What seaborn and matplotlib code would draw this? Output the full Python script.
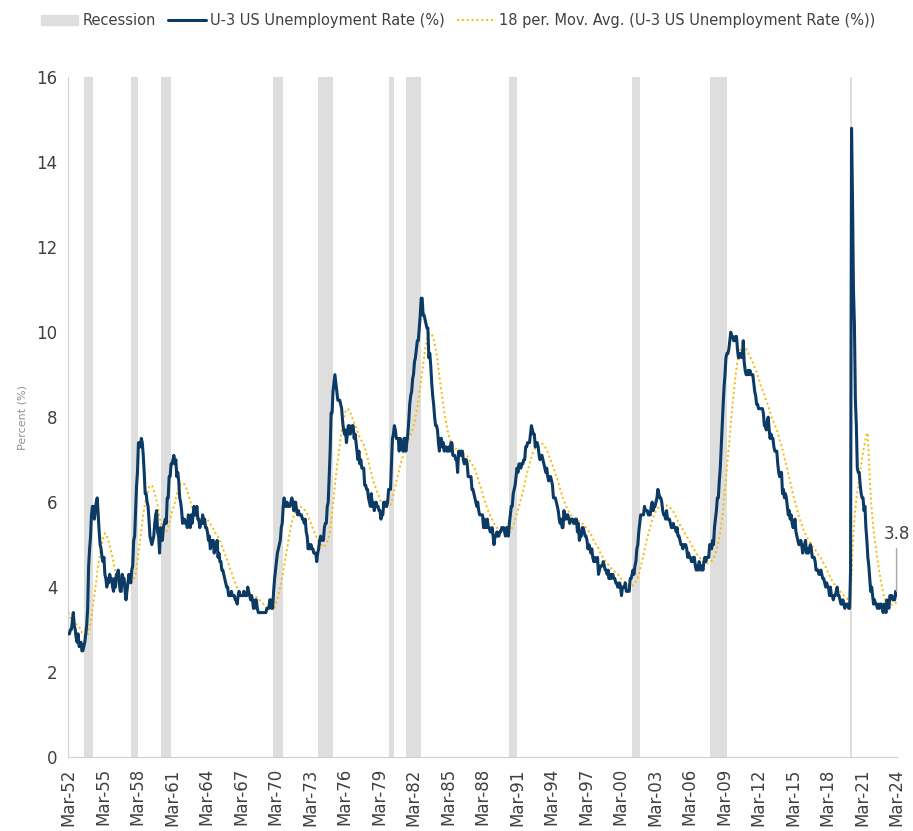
import matplotlib.pyplot as plt
import matplotlib.dates as mdates
from matplotlib.patches import Patch
from matplotlib.lines import Line2D
import numpy as np
import pandas as pd
import seaborn as sns

# monthly U-3 rate (%); starts Oct-50 so the
# 18-month average is already filled at Mar-52
u1950s = [4.2, 4.2, 4.3,
          3.7, 3.4, 3.4, 3.1, 3.0, 3.2, 3.1, 3.1, 3.3, 3.5, 3.5, 3.1,
          3.2, 3.1, 2.9, 2.9, 3.0, 3.0, 3.2, 3.4, 3.1, 3.0, 2.8, 2.7,
          2.9, 2.6, 2.6, 2.7, 2.5, 2.5, 2.6, 2.7, 2.9, 3.1, 3.5, 4.5,
          4.9, 5.2, 5.7, 5.9, 5.9, 5.6, 5.8, 6.0, 6.1, 5.7, 5.3, 5.0,
          4.9, 4.7, 4.6, 4.7, 4.3, 4.2, 4.0, 4.2, 4.1, 4.3, 4.2, 4.2,
          4.0, 3.9, 4.2, 4.0, 4.3, 4.3, 4.4, 4.1, 3.9, 3.9, 4.3, 4.2,
          4.2, 3.9, 3.7, 3.9, 4.1, 4.3, 4.2, 4.1, 4.4, 4.5, 5.1, 5.2,
          5.8, 6.4, 6.7, 7.4, 7.4, 7.3, 7.5, 7.4, 7.1, 6.7, 6.2, 6.2,
          6.0, 5.9, 5.6, 5.2, 5.1, 5.0, 5.1, 5.2, 5.5, 5.7, 5.8, 5.3]
u1960s = [5.2, 4.8, 5.4, 5.2, 5.1, 5.4, 5.5, 5.6, 5.5, 6.1, 6.1, 6.6,
          6.6, 6.9, 6.9, 7.0, 7.1, 6.9, 7.0, 6.6, 6.7, 6.5, 6.1, 6.0,
          5.8, 5.5, 5.6, 5.6, 5.5, 5.5, 5.4, 5.7, 5.6, 5.4, 5.7, 5.5,
          5.7, 5.9, 5.7, 5.7, 5.9, 5.6, 5.6, 5.4, 5.5, 5.5, 5.7, 5.5,
          5.6, 5.4, 5.4, 5.3, 5.1, 5.2, 4.9, 5.0, 5.1, 5.1, 4.8, 5.0,
          4.9, 5.1, 4.7, 4.8, 4.6, 4.6, 4.4, 4.4, 4.3, 4.2, 4.1, 4.0,
          4.0, 3.8, 3.8, 3.8, 3.9, 3.8, 3.8, 3.8, 3.7, 3.7, 3.6, 3.8,
          3.9, 3.8, 3.8, 3.8, 3.8, 3.9, 3.8, 3.8, 3.8, 4.0, 3.9, 3.8,
          3.7, 3.8, 3.7, 3.5, 3.5, 3.7, 3.7, 3.5, 3.4, 3.4, 3.4, 3.4,
          3.4, 3.4, 3.4, 3.4, 3.4, 3.5, 3.5, 3.5, 3.7, 3.7, 3.5, 3.5]
u1970s = [3.9, 4.2, 4.4, 4.6, 4.8, 4.9, 5.0, 5.1, 5.4, 5.5, 5.9, 6.1,
          5.9, 5.9, 6.0, 5.9, 5.9, 5.9, 6.0, 6.1, 6.0, 5.8, 6.0, 6.0,
          5.8, 5.7, 5.8, 5.7, 5.7, 5.7, 5.6, 5.6, 5.5, 5.6, 5.3, 5.2,
          4.9, 5.0, 4.9, 5.0, 4.9, 4.9, 4.8, 4.8, 4.8, 4.6, 4.8, 4.9,
          5.1, 5.2, 5.1, 5.1, 5.1, 5.4, 5.5, 5.5, 5.9, 6.0, 6.6, 7.2,
          8.1, 8.1, 8.6, 8.8, 9.0, 8.8, 8.6, 8.4, 8.4, 8.4, 8.3, 8.2,
          7.9, 7.7, 7.6, 7.7, 7.4, 7.6, 7.8, 7.8, 7.6, 7.7, 7.8, 7.8,
          7.5, 7.6, 7.4, 7.2, 7.0, 7.2, 6.9, 7.0, 6.8, 6.8, 6.8, 6.4,
          6.4, 6.3, 6.3, 6.1, 6.0, 5.9, 6.2, 5.9, 6.0, 5.8, 5.9, 6.0,
          5.9, 5.9, 5.8, 5.8, 5.6, 5.7, 5.7, 6.0, 5.9, 6.0, 5.9, 6.0]
u1980s = [6.3, 6.3, 6.3, 6.9, 7.5, 7.6, 7.8, 7.7, 7.5, 7.5, 7.5, 7.2,
          7.5, 7.4, 7.4, 7.2, 7.5, 7.5, 7.2, 7.4, 7.6, 7.9, 8.3, 8.5,
          8.6, 8.9, 9.0, 9.3, 9.4, 9.6, 9.8, 9.8, 10.1, 10.4, 10.8, 10.8,
          10.4, 10.4, 10.3, 10.2, 10.1, 10.1, 9.4, 9.5, 9.2, 8.8, 8.5, 8.3,
          8.0, 7.8, 7.8, 7.7, 7.4, 7.2, 7.5, 7.5, 7.3, 7.4, 7.2, 7.3,
          7.3, 7.2, 7.2, 7.3, 7.2, 7.4, 7.4, 7.1, 7.1, 7.1, 7.0, 7.0,
          6.7, 7.2, 7.2, 7.1, 7.2, 7.2, 7.0, 6.9, 7.0, 7.0, 6.9, 6.6,
          6.6, 6.6, 6.6, 6.3, 6.3, 6.2, 6.1, 6.0, 5.9, 6.0, 5.8, 5.7,
          5.7, 5.7, 5.7, 5.4, 5.6, 5.4, 5.4, 5.6, 5.4, 5.4, 5.3, 5.3,
          5.4, 5.2, 5.0, 5.2, 5.2, 5.3, 5.2, 5.2, 5.3, 5.3, 5.4, 5.4]
u1990s = [5.4, 5.3, 5.2, 5.4, 5.4, 5.2, 5.5, 5.7, 5.9, 5.9, 6.2, 6.3,
          6.4, 6.6, 6.8, 6.7, 6.9, 6.9, 6.8, 6.9, 6.9, 7.0, 7.0, 7.3,
          7.3, 7.4, 7.4, 7.4, 7.6, 7.8, 7.7, 7.6, 7.6, 7.3, 7.4, 7.4,
          7.3, 7.1, 7.0, 7.1, 7.1, 7.0, 6.9, 6.8, 6.7, 6.8, 6.6, 6.5,
          6.6, 6.6, 6.5, 6.4, 6.1, 6.1, 6.1, 6.0, 5.9, 5.8, 5.6, 5.5,
          5.6, 5.4, 5.4, 5.8, 5.6, 5.6, 5.7, 5.7, 5.6, 5.5, 5.6, 5.6,
          5.6, 5.5, 5.5, 5.6, 5.6, 5.3, 5.5, 5.1, 5.2, 5.2, 5.4, 5.4,
          5.3, 5.2, 5.2, 5.1, 4.9, 5.0, 4.9, 4.8, 4.9, 4.7, 4.6, 4.7,
          4.6, 4.6, 4.7, 4.3, 4.4, 4.5, 4.5, 4.5, 4.6, 4.5, 4.4, 4.4,
          4.3, 4.4, 4.2, 4.3, 4.2, 4.3, 4.3, 4.2, 4.2, 4.1, 4.1, 4.0]
u2000s = [4.0, 4.1, 4.0, 3.8, 4.0, 4.0, 4.0, 4.1, 3.9, 3.9, 3.9, 3.9,
          4.2, 4.2, 4.3, 4.4, 4.3, 4.5, 4.6, 4.9, 5.0, 5.3, 5.5, 5.7,
          5.7, 5.7, 5.7, 5.9, 5.8, 5.8, 5.8, 5.7, 5.7, 5.7, 5.9, 6.0,
          5.8, 5.9, 5.9, 6.0, 6.1, 6.3, 6.2, 6.1, 6.1, 6.0, 5.8, 5.7,
          5.7, 5.6, 5.8, 5.6, 5.6, 5.6, 5.5, 5.4, 5.4, 5.5, 5.4, 5.4,
          5.3, 5.4, 5.2, 5.2, 5.1, 5.0, 5.0, 4.9, 5.0, 5.0, 5.0, 4.9,
          4.7, 4.8, 4.7, 4.7, 4.6, 4.6, 4.7, 4.7, 4.5, 4.4, 4.5, 4.4,
          4.6, 4.5, 4.4, 4.5, 4.4, 4.6, 4.7, 4.6, 4.7, 4.7, 4.7, 5.0,
          5.0, 4.9, 5.1, 5.0, 5.4, 5.6, 5.8, 6.1, 6.1, 6.5, 6.8, 7.3,
          7.8, 8.3, 8.7, 9.0, 9.4, 9.5, 9.5, 9.6, 9.8, 10.0, 9.9, 9.9]
u2010s = [9.8, 9.8, 9.9, 9.9, 9.6, 9.4, 9.4, 9.5, 9.5, 9.4, 9.8, 9.3,
          9.1, 9.0, 9.0, 9.1, 9.0, 9.1, 9.0, 9.0, 9.0, 8.8, 8.6, 8.5,
          8.3, 8.3, 8.2, 8.2, 8.2, 8.2, 8.2, 8.1, 7.8, 7.8, 7.7, 7.9,
          8.0, 7.7, 7.5, 7.6, 7.5, 7.5, 7.3, 7.2, 7.2, 7.2, 6.9, 6.7,
          6.6, 6.7, 6.7, 6.2, 6.3, 6.1, 6.2, 6.1, 5.9, 5.7, 5.8, 5.6,
          5.7, 5.5, 5.4, 5.4, 5.6, 5.3, 5.2, 5.1, 5.0, 5.0, 5.1, 5.0,
          4.8, 4.9, 5.0, 5.1, 4.8, 4.9, 4.8, 4.9, 5.0, 4.9, 4.7, 4.7,
          4.7, 4.6, 4.4, 4.4, 4.4, 4.3, 4.3, 4.4, 4.3, 4.2, 4.2, 4.1,
          4.0, 4.1, 4.0, 4.0, 3.8, 4.0, 3.8, 3.8, 3.7, 3.8, 3.8, 3.9,
          4.0, 3.8, 3.8, 3.7, 3.6, 3.6, 3.7, 3.6, 3.5, 3.6, 3.6, 3.6]
u2020s = [3.5, 3.5, 4.4, 14.8, 13.2, 11.0, 10.2, 8.4, 7.8, 6.8, 6.7, 6.7,
          6.4, 6.2, 6.1, 6.1, 5.8, 5.9, 5.4, 5.1, 4.7, 4.5, 4.2, 3.9,
          4.0, 3.8, 3.6, 3.7, 3.6, 3.6, 3.5, 3.6, 3.5, 3.6, 3.6, 3.5,
          3.4, 3.6, 3.5, 3.4, 3.7, 3.6, 3.5, 3.8, 3.8, 3.8, 3.7, 3.7,
          3.7, 3.9, 3.8]

# NBER recessions (start month, end month)
rec_start = ["1953-07", "1957-08", "1960-04", "1969-12", "1973-11", "1980-01",
             "1981-07", "1990-07", "2001-03", "2007-12", "2020-02"]
rec_end = ["1954-05", "1958-04", "1961-02", "1970-11", "1975-03", "1980-07",
           "1982-11", "1991-03", "2001-11", "2009-06", "2020-04"]

# %% build the series
rate = u1950s + u1960s + u1970s + u1980s + u1990s + u2000s + u2010s + u2020s
df = pd.DataFrame({"date": pd.date_range("1950-10-01", periods=len(rate), freq="MS"),
                   "rate": rate})
df["ma18"] = df["rate"].rolling(18).mean()
df = df[df["date"] >= "1952-03-01"]

navy = "#0b3a64"
gold = "#f7b900"
grey_txt = "#404040"

# %% plot
sns.set_style("white")
fig, ax = plt.subplots(figsize=(9.13, 8.31), dpi=100)
fig.subplots_adjust(left=0.075, right=0.982, top=0.907, bottom=0.089)

for s, e in zip(rec_start, rec_end):
    ax.axvspan(pd.Timestamp(s), pd.Timestamp(e), color="#dedede", lw=0, zorder=0)

sns.lineplot(data=df, x="date", y="ma18", ax=ax, color=gold, lw=1.4,
             linestyle=(0, (1, 1.5)), zorder=2)
sns.lineplot(data=df, x="date", y="rate", ax=ax, color=navy, lw=2.2, zorder=3)

ax.set_xlim(pd.Timestamp("1952-03-01"), pd.Timestamp("2024-03-01"))
ax.set_ylim(0, 16)
ax.set_yticks(np.arange(0, 17, 2))
ax.set_xticks(pd.date_range("1952-03-01", "2024-03-01", freq="36MS"))
ax.xaxis.set_major_formatter(mdates.DateFormatter("%b-%y"))
plt.setp(ax.get_xticklabels(), rotation=90)

ax.set_xlabel("")
ax.set_ylabel("Percent (%)", fontsize=8, color="#909090", labelpad=6)
ax.tick_params(axis="both", direction="out", length=5, color="#d0d0d0",
               labelcolor=grey_txt, labelsize=12, pad=3)
for side in ["top", "right"]:
    ax.spines[side].set_visible(False)
for side in ["left", "bottom"]:
    ax.spines[side].set_color("#d0d0d0")

# last value label
last = df.iloc[-1]
ax.annotate(f"{last['rate']:.1f}", xy=(last["date"], last["rate"]),
            xytext=(0, 41), textcoords="offset points", ha="center",
            fontsize=12, color=grey_txt,
            arrowprops=dict(arrowstyle="-", color="#a8a8a8", lw=1,
                            shrinkA=2, shrinkB=3))

handles = [Patch(color="#dedede", label="Recession"),
           Line2D([], [], color=navy, lw=2.2, label="U-3 US Unemployment Rate (%)"),
           Line2D([], [], color=gold, lw=1.4, linestyle=(0, (1, 1.5)),
                  label="18 per. Mov. Avg. (U-3 US Unemployment Rate (%))")]
fig.legend(handles=handles, loc="upper left", bbox_to_anchor=(0.03, 1.0),
           ncol=3, frameon=False, fontsize=10.5, handlelength=2.6,
           handletextpad=0.3, columnspacing=0.8, labelcolor=grey_txt)

fig.savefig("out.png", dpi=100)
